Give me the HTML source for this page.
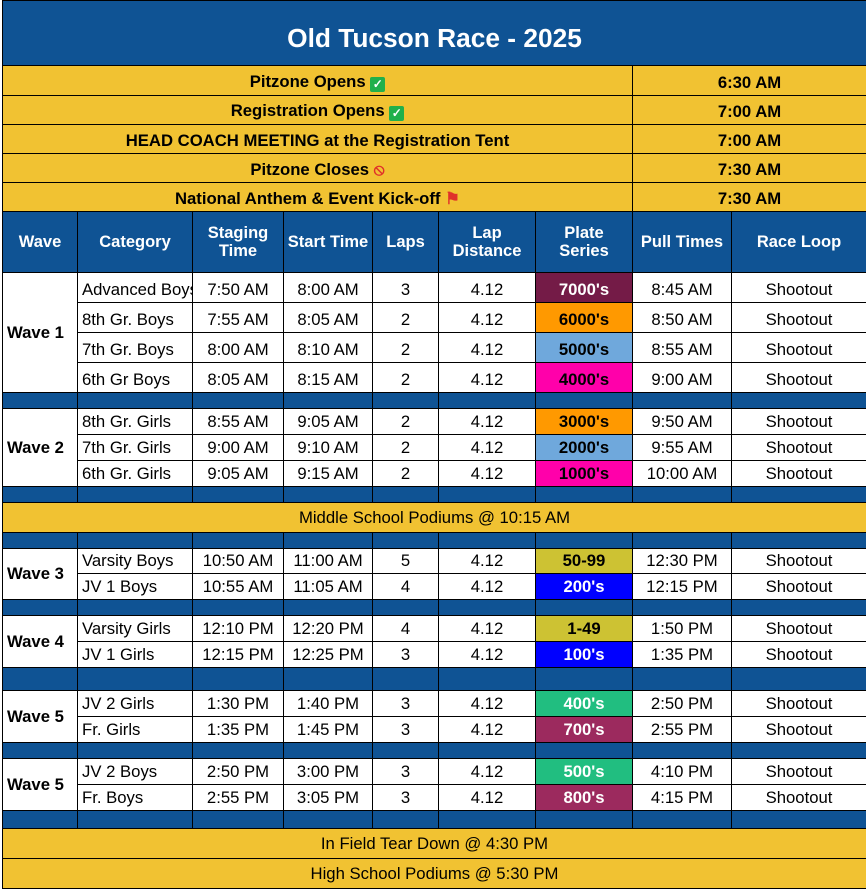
<!DOCTYPE html>
<html><head><meta charset="utf-8"><style>
body{margin:0;background:#fff;width:866px;height:890px;overflow:hidden}
table{position:absolute;left:2px;top:0;border-collapse:collapse;table-layout:fixed;width:864px;font-family:"Liberation Sans",Arial,sans-serif;font-size:16.7px;color:#000}
td{border:1px solid #000;text-align:center;padding:0 0 3px 0;white-space:nowrap;overflow:hidden;line-height:18px;vertical-align:bottom}
.t{background:#0f5394;color:#fff;font-weight:bold;font-size:26.3px;padding-bottom:13px;line-height:28px}
.y{background:#f1c232;font-weight:bold}
.ym{background:#f1c232;padding-bottom:5px}
.h td{background:#0f5394;color:#fff;font-weight:bold;font-size:16.5px;vertical-align:middle;padding:0}
.s td{background:#0f5394;padding:0}
.w{font-weight:bold;text-align:left;padding:0 0 0 4px;vertical-align:middle}
.c{text-align:left;padding-left:4px}
.p{font-weight:bold}
.wh{color:#fff}
.ic{display:inline-block;width:15px;height:15px;border-radius:2px;background:#21b04b;color:#fff;font-size:12px;line-height:15px;vertical-align:-1px}
</style></head><body>
<table>
<colgroup><col style="width:75px"><col style="width:115px"><col style="width:91px"><col style="width:89px"><col style="width:66px"><col style="width:97px"><col style="width:97px"><col style="width:99px"><col style="width:135px"></colgroup>
<tr style="height:65px"><td class="t" colspan="9">Old Tucson Race - 2025</td></tr>
<tr style="height:30px"><td class="y" colspan="7">Pitzone Opens <span class="ic">✓</span></td><td class="y" colspan="2">6:30 AM</td></tr>
<tr style="height:29px"><td class="y" colspan="7">Registration Opens <span class="ic">✓</span></td><td class="y" colspan="2">7:00 AM</td></tr>
<tr style="height:29px"><td class="y" colspan="7">HEAD COACH MEETING at the Registration Tent</td><td class="y" colspan="2">7:00 AM</td></tr>
<tr style="height:29px"><td class="y" colspan="7">Pitzone Closes <span style="color:#e0302a">⦸</span></td><td class="y" colspan="2">7:30 AM</td></tr>
<tr style="height:29px"><td class="y" colspan="7">National Anthem &amp; Event Kick-off <span style="color:#e0302a">⚑</span></td><td class="y" colspan="2">7:30 AM</td></tr>
<tr class="h" style="height:61px"><td>Wave</td><td>Category</td><td>Staging<br>Time</td><td>Start Time</td><td>Laps</td><td>Lap<br>Distance</td><td>Plate<br>Series</td><td>Pull Times</td><td>Race Loop</td></tr>
<tr style="height:30px"><td class="w" rowspan="4">Wave 1</td><td class="c">Advanced Boys</td><td>7:50 AM</td><td>8:00 AM</td><td>3</td><td>4.12</td><td class="p wh" style="background:#741b47">7000's</td><td>8:45 AM</td><td>Shootout</td></tr>
<tr style="height:30px"><td class="c">8th Gr. Boys</td><td>7:55 AM</td><td>8:05 AM</td><td>2</td><td>4.12</td><td class="p" style="background:#ff9900">6000's</td><td>8:50 AM</td><td>Shootout</td></tr>
<tr style="height:30px"><td class="c">7th Gr. Boys</td><td>8:00 AM</td><td>8:10 AM</td><td>2</td><td>4.12</td><td class="p" style="background:#6fa8dc">5000's</td><td>8:55 AM</td><td>Shootout</td></tr>
<tr style="height:30px"><td class="c">6th Gr Boys</td><td>8:05 AM</td><td>8:15 AM</td><td>2</td><td>4.12</td><td class="p" style="background:#ff00aa">4000's</td><td>9:00 AM</td><td>Shootout</td></tr>
<tr class="s" style="height:16px"><td></td><td></td><td></td><td></td><td></td><td></td><td></td><td></td><td></td></tr>
<tr style="height:26px"><td class="w" rowspan="3">Wave 2</td><td class="c">8th Gr. Girls</td><td>8:55 AM</td><td>9:05 AM</td><td>2</td><td>4.12</td><td class="p" style="background:#ff9900">3000's</td><td>9:50 AM</td><td>Shootout</td></tr>
<tr style="height:26px"><td class="c">7th Gr. Girls</td><td>9:00 AM</td><td>9:10 AM</td><td>2</td><td>4.12</td><td class="p" style="background:#6fa8dc">2000's</td><td>9:55 AM</td><td>Shootout</td></tr>
<tr style="height:26px"><td class="c">6th Gr. Girls</td><td>9:05 AM</td><td>9:15 AM</td><td>2</td><td>4.12</td><td class="p" style="background:#ff00aa">1000's</td><td>10:00 AM</td><td>Shootout</td></tr>
<tr class="s" style="height:16px"><td></td><td></td><td></td><td></td><td></td><td></td><td></td><td></td><td></td></tr>
<tr style="height:30px"><td class="ym" colspan="9">Middle School Podiums @ 10:15 AM</td></tr>
<tr class="s" style="height:16px"><td></td><td></td><td></td><td></td><td></td><td></td><td></td><td></td><td></td></tr>
<tr style="height:25px"><td class="w" rowspan="2">Wave 3</td><td class="c">Varsity Boys</td><td>10:50 AM</td><td>11:00 AM</td><td>5</td><td>4.12</td><td class="p" style="background:#cdc233">50-99</td><td>12:30 PM</td><td>Shootout</td></tr>
<tr style="height:26px"><td class="c">JV 1 Boys</td><td>10:55 AM</td><td>11:05 AM</td><td>4</td><td>4.12</td><td class="p wh" style="background:#0000ff">200's</td><td>12:15 PM</td><td>Shootout</td></tr>
<tr class="s" style="height:16px"><td></td><td></td><td></td><td></td><td></td><td></td><td></td><td></td><td></td></tr>
<tr style="height:26px"><td class="w" rowspan="2">Wave 4</td><td class="c">Varsity Girls</td><td>12:10 PM</td><td>12:20 PM</td><td>4</td><td>4.12</td><td class="p" style="background:#cdc233">1-49</td><td>1:50 PM</td><td>Shootout</td></tr>
<tr style="height:26px"><td class="c">JV 1 Girls</td><td>12:15 PM</td><td>12:25 PM</td><td>3</td><td>4.12</td><td class="p wh" style="background:#0000ff">100's</td><td>1:35 PM</td><td>Shootout</td></tr>
<tr class="s" style="height:23px"><td></td><td></td><td></td><td></td><td></td><td></td><td></td><td></td><td></td></tr>
<tr style="height:26px"><td class="w" rowspan="2">Wave 5</td><td class="c">JV 2 Girls</td><td>1:30 PM</td><td>1:40 PM</td><td>3</td><td>4.12</td><td class="p wh" style="background:#21be80">400's</td><td>2:50 PM</td><td>Shootout</td></tr>
<tr style="height:26px"><td class="c">Fr. Girls</td><td>1:35 PM</td><td>1:45 PM</td><td>3</td><td>4.12</td><td class="p wh" style="background:#9c2a5e">700's</td><td>2:55 PM</td><td>Shootout</td></tr>
<tr class="s" style="height:16px"><td></td><td></td><td></td><td></td><td></td><td></td><td></td><td></td><td></td></tr>
<tr style="height:26px"><td class="w" rowspan="2">Wave 5</td><td class="c">JV 2 Boys</td><td>2:50 PM</td><td>3:00 PM</td><td>3</td><td>4.12</td><td class="p wh" style="background:#21be80">500's</td><td>4:10 PM</td><td>Shootout</td></tr>
<tr style="height:26px"><td class="c">Fr. Boys</td><td>2:55 PM</td><td>3:05 PM</td><td>3</td><td>4.12</td><td class="p wh" style="background:#9c2a5e">800's</td><td>4:15 PM</td><td>Shootout</td></tr>
<tr class="s" style="height:18px"><td></td><td></td><td></td><td></td><td></td><td></td><td></td><td></td><td></td></tr>
<tr style="height:30px"><td class="ym" colspan="9">In Field Tear Down @ 4:30 PM</td></tr>
<tr style="height:30px"><td class="ym" colspan="9">High School Podiums @ 5:30 PM</td></tr>
</table>
</body></html>
